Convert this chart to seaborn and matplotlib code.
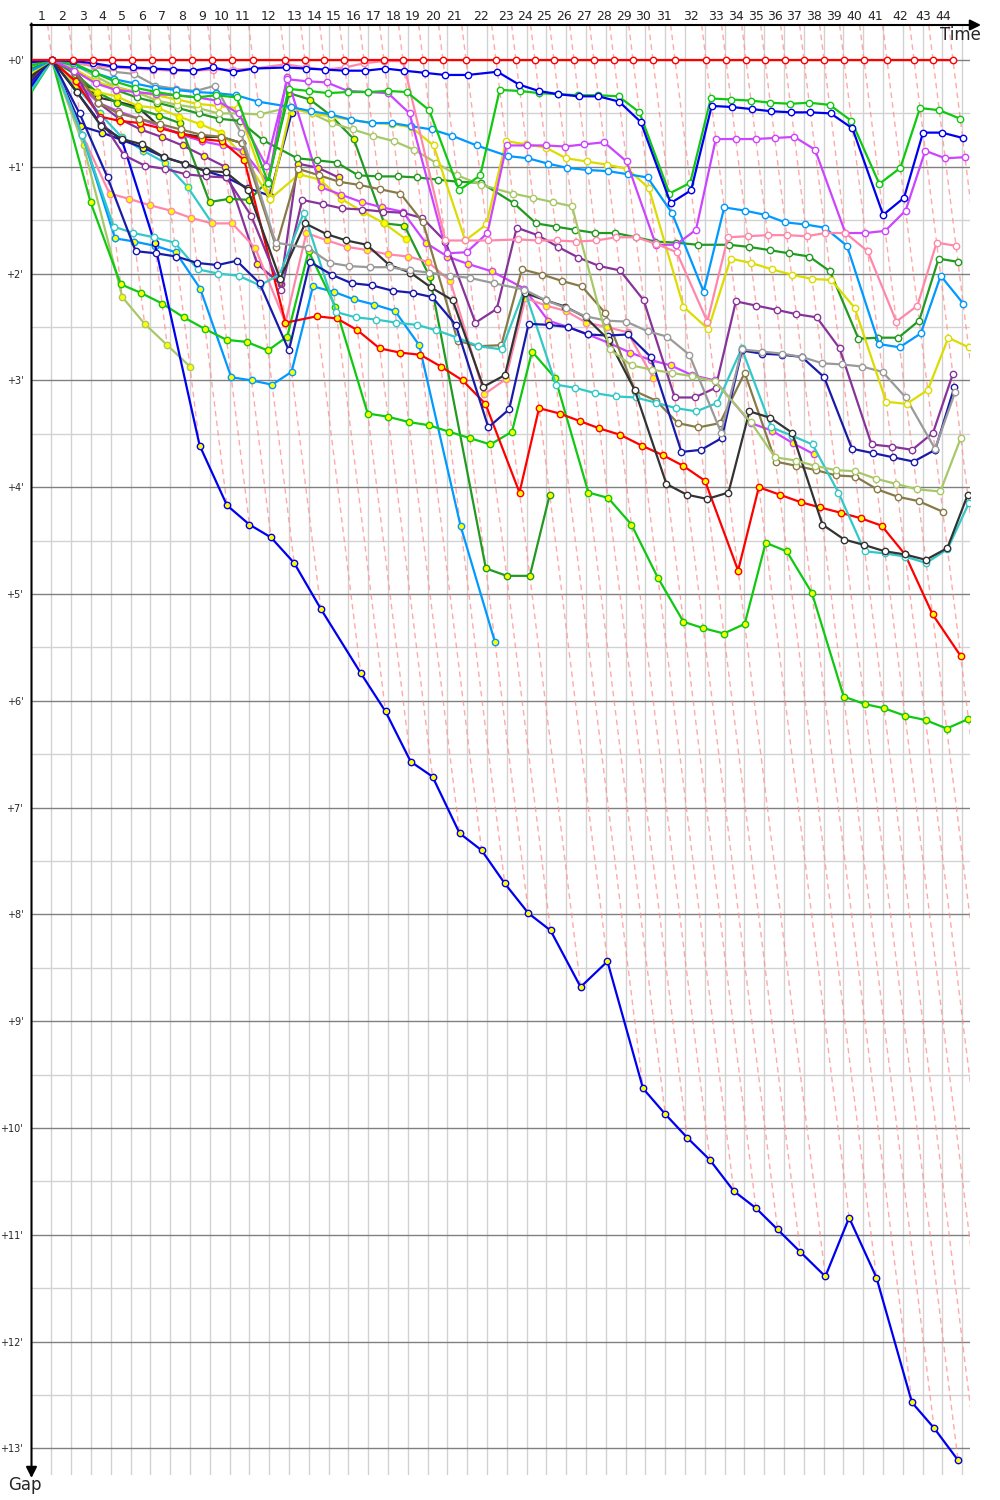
import matplotlib
matplotlib.use("Agg")
import matplotlib.pyplot as plt
from matplotlib.transforms import blended_transform_factory
import numpy as np
import pandas as pd
import seaborn as sns

# ---------------- data ----------------
# leader's elapsed time (minutes) at the end of each lap 1..44
lap_end_min = [1.55, 3.14, 4.66, 6.10, 7.61, 9.13, 10.64, 12.16, 13.67, 15.19,
               16.78, 19.20, 20.72, 22.16, 23.67, 25.19, 26.70, 28.14, 29.66, 31.17,
               32.92, 35.19, 36.70, 38.14, 39.58, 41.10, 42.61, 44.13, 45.57, 47.08,
               48.75, 51.10, 52.61, 54.13, 55.57, 57.08, 58.52, 60.04, 61.55, 63.07,
               64.81, 66.86, 68.30, 69.81]
lap_labels = [str(i) for i in range(1, 45)]
gap_labels = ["+%d'" % i for i in range(14)]

# gaps to the leader (minutes) per lap, starting with lap 1
red_a = [0, 0, 0, 0, 0, 0, 0, 0, 0, 0, 0, 0, 0, 0, 0, 0, 0, 0, 0, 0, 0, 0,
         0, 0, 0, 0, 0, 0, 0, 0, 0, 0, 0, 0, 0, 0, 0, 0, 0, 0, 0, 0, 0, 0]
blue_a = [0, 0.01, 0.03, 0.06, 0.07, 0.08, 0.09, 0.10, 0.07, 0.11,
          0.08, 0.07, 0.08, 0.09, 0.10, 0.10, 0.08, 0.10, 0.12, 0.14,
          0.14, 0.11, 0.23, 0.29, 0.32, 0.34, 0.34, 0.39, 0.58, 1.34,
          1.22, 0.43, 0.44, 0.46, 0.48, 0.49, 0.49, 0.50, 0.64, 1.45,
          1.29, 0.68, 0.68, 0.73]
green_a = [0, 0.03, 0.12, 0.20, 0.26, 0.30, 0.33, 0.35, 0.33, 0.35,
           1.15, 0.27, 0.29, 0.31, 0.30, 0.30, 0.29, 0.30, 0.47, 1.22,
           1.08, 0.28, 0.29, 0.31, 0.32, 0.33, 0.33, 0.34, 0.49, 1.25,
           1.15, 0.36, 0.37, 0.38, 0.40, 0.41, 0.40, 0.42, 0.57, 1.16,
           1.01, 0.45, 0.47, 0.55]
pink_a = [0, 0.03, 0.05, 0.07, 0.08, 0.09, 0.10, 0.10, 0.09, 0.09,
          0.08, 0.04, 0.07, 0.09, 0.07, 0.03, 0.01, 0.01, 1.69, 1.69,
          1.69, 1.68, 1.69, 1.69, 1.70, 1.69, 1.66, 1.66, 1.72, 1.80,
          2.45, 1.66, 1.65, 1.64, 1.64, 1.65, 1.62, 1.62, 1.79, 2.45,
          2.30, 1.71, 1.74]
violet_a = [0, 0.10, 0.22, 0.28, 0.30, 0.32, 0.33, 0.35, 0.38, 0.50,
            0.99, 0.18, 0.20, 0.21, 0.29, 0.30, 0.31, 0.50, 1.81, 1.80,
            1.62, 0.80, 0.80, 0.80, 0.81, 0.79, 0.77, 0.95, 1.73, 1.73,
            1.59, 0.74, 0.74, 0.74, 0.73, 0.72, 0.84, 1.62, 1.62, 1.60,
            1.41, 0.85, 0.92, 0.91]
skyblue_a = [0, 0.05, 0.12, 0.18, 0.22, 0.26, 0.28, 0.30, 0.31, 0.33,
             0.39, 0.44, 0.48, 0.51, 0.56, 0.59, 0.59, 0.62, 0.65, 0.71,
             0.80, 0.90, 0.92, 0.97, 1.01, 1.03, 1.04, 1.07, 1.10, 1.43,
             2.17, 1.38, 1.41, 1.45, 1.52, 1.54, 1.57, 1.74, 2.66, 2.69,
             2.56, 2.02, 2.28]
yellow_a = [0, 0.08, 0.20, 0.26, 0.30, 0.33, 0.37, 0.41, 0.43, 0.45,
            1.30, 0.45, 0.50, 0.53, 0.56, 0.59, 0.60, 0.63, 0.80, 1.69,
            1.54, 0.76, 0.79, 0.82, 0.92, 0.95, 0.98, 1.02, 1.20, 2.31,
            2.52, 1.86, 1.90, 1.96, 2.01, 2.05, 2.06, 2.32, 3.20, 3.22,
            3.09, 2.60, 2.69]
olive_a = [0, 0.04, 0.15, 0.25, 0.30, 0.38, 0.42, 0.45, 0.50, 0.50,
           0.51, 0.44, 0.50, 0.59, 0.65, 0.71, 0.76, 0.84, 0.96, 1.08,
           1.17, 1.25, 1.29, 1.33, 1.37, 2.71, 2.86, 2.90, 2.93, 2.96,
           3.01, 3.39, 3.72, 3.75, 3.80, 3.84, 3.85, 3.92, 3.97, 4.02,
           4.04, 3.54]
dkgreen_a = [0, 0.10, 0.20, 0.28, 0.35, 0.40, 0.45, 0.50, 0.55, 0.57,
             0.75, 0.92, 0.94, 0.96, 1.08, 1.09, 1.09, 1.10, 1.12, 1.14,
             1.15, 1.34, 1.53, 1.56, 1.59, 1.62, 1.62, 1.66, 1.70, 1.71,
             1.73, 1.73, 1.75, 1.78, 1.81, 1.84, 1.98, 2.61, 2.60, 2.60,
             2.44, 1.86, 1.89]
grey_a = [0, 0.02, 0.06, 0.11, 0.13, 0.24, 0.27, 0.29, 0.24, 0.68,
          1.71, 1.76, 1.90, 1.93, 1.94, 1.94, 1.97, 1.99, 2.02, 2.04,
          2.09, 2.15, 2.25, 2.32, 2.40, 2.44, 2.45, 2.54, 2.59, 2.76,
          3.49, 2.71, 2.73, 2.75, 2.78, 2.84, 2.85, 2.87, 2.92, 3.16,
          3.64, 3.11]
black_a = [0, 0.30, 0.62, 0.74, 0.79, 0.91, 0.97, 1.04, 1.05, 1.22,
           2.05, 1.53, 1.63, 1.69, 1.73, 1.92, 1.99, 2.13, 2.25, 3.06,
           2.95, 2.18, 2.25, 2.31, 2.41, 2.62, 3.09, 3.97, 4.07, 4.11,
           4.05, 3.29, 3.35, 3.49, 4.35, 4.49, 4.54, 4.60, 4.63, 4.68,
           4.57, 4.07]
navy_a = [0, 0.50, 1.10, 1.79, 1.81, 1.84, 1.90, 1.92, 1.88, 2.09,
          2.72, 1.89, 2.01, 2.09, 2.11, 2.16, 2.18, 2.22, 2.48, 3.44,
          3.27, 2.47, 2.48, 2.50, 2.57, 2.58, 2.57, 2.78, 3.67, 3.65,
          3.54, 2.72, 2.75, 2.76, 2.78, 2.97, 3.64, 3.68, 3.72, 3.76,
          3.65, 3.06]
cyan_a = [0, 0.70, 1.56, 1.62, 1.66, 1.71, 1.96, 2.00, 2.02, 2.11,
          2.01, 1.43, 2.36, 2.41, 2.43, 2.46, 2.48, 2.53, 2.60, 2.68,
          2.71, 2.15, 3.04, 3.07, 3.12, 3.15, 3.16, 3.21, 3.26, 3.29,
          3.21, 2.70, 3.44, 3.52, 3.60, 4.05, 4.60, 4.62, 4.65, 4.71,
          4.58, 4.15]
khaki_a = [0, 0.10, 0.40, 0.50, 0.55, 0.60, 0.65, 0.70, 0.72, 0.78,
           1.75, 1.02, 1.08, 1.14, 1.17, 1.21, 1.25, 1.52, 2.63, 2.68,
           2.67, 1.96, 2.01, 2.07, 2.12, 2.37, 3.10, 3.19, 3.40, 3.44,
           3.40, 2.93, 3.76, 3.80, 3.84, 3.89, 3.90, 4.02, 4.09, 4.13,
           4.23]
purple_a = [0, 0.10, 0.55, 0.89, 0.99, 1.02, 1.07, 1.09, 1.10, 1.46,
            2.15, 1.31, 1.35, 1.39, 1.40, 1.42, 1.43, 1.48, 1.70, 2.46,
            2.33, 1.57, 1.64, 1.75, 1.85, 1.93, 1.97, 2.25, 3.16, 3.16,
            3.07, 2.26, 2.30, 2.34, 2.38, 2.41, 2.70, 3.60, 3.62, 3.65,
            3.49, 2.94]
red_b = [0, 0.20, 0.53, 0.57, 0.59, 0.64, 0.69, 0.74, 0.76, 0.94,
         2.46, 2.40, 2.42, 2.53, 2.70, 2.74, 2.76, 2.87, 3.00, 3.22,
         4.05, 3.26, 3.31, 3.38, 3.45, 3.51, 3.61, 3.70, 3.80, 3.94,
         4.78, 4.00, 4.07, 4.14, 4.19, 4.24, 4.29, 4.36, 4.63, 5.19,
         5.58]
blue_b = [0, 0.30, 0.60, 0.75, 1.71, 3.61, 4.17, 4.35, 4.47, 4.71,
          5.14, 5.74, 6.10, 6.57, 6.71, 7.24, 7.40, 7.71, 7.99, 8.15,
          8.68, 8.44, 9.63, 9.87, 10.09, 10.30, 10.59, 10.75, 10.95, 11.16,
          11.39, 10.84, 11.40, 12.57, 12.81, 13.11]
green_b = [0, 1.33, 2.10, 2.18, 2.28, 2.41, 2.52, 2.62, 2.64, 2.72,
           2.59, 1.79, 2.31, 3.31, 3.34, 3.39, 3.42, 3.48, 3.54, 3.60,
           3.48, 2.73, 2.98, 4.05, 4.10, 4.35, 4.85, 5.26, 5.32, 5.37,
           5.28, 4.52, 4.60, 4.99, 5.96, 6.03, 6.07, 6.14, 6.18, 6.26,
           6.17]
pink_b = [0, 0.70, 1.25, 1.30, 1.36, 1.41, 1.48, 1.53, 1.53, 1.76,
          2.46, 1.62, 1.69, 1.75, 1.78, 1.82, 1.84, 1.89, 2.07, 3.13,
          2.99, 2.23, 2.30, 2.35, 2.46, 2.50, 2.55, 2.98]
violet_b = [0, 0.20, 0.40, 0.48, 0.55, 0.62, 0.70, 0.76, 0.80, 0.85,
            1.15, 0.16, 1.19, 1.26, 1.33, 1.38, 1.42, 1.71, 1.84, 1.91,
            1.98, 2.14, 2.44, 2.50, 2.57, 2.65, 2.74, 2.81, 2.86, 2.95,
            3.00, 3.40, 3.47, 3.59, 3.69]
skyblue_b = [0, 0.70, 1.67, 1.70, 1.74, 1.80, 2.14, 2.97, 3.00, 3.04,
             2.92, 2.12, 2.17, 2.24, 2.29, 2.35, 2.67, 4.36, 5.45]
yellow_b = [0, 0.23, 0.30, 0.34, 0.43, 0.45, 0.53, 0.60, 0.68, 0.90,
            1.30, 1.07, 1.12, 1.30, 1.42, 1.53, 1.68]
olive_b = [0, 0.80, 2.22, 2.47, 2.67, 2.87]
dkgreen_b = [0, 0.13, 0.30, 0.40, 0.46, 0.52, 0.59, 1.33, 1.30, 1.31,
             1.13, 0.31, 0.37, 0.52, 0.74, 1.53, 1.55, 2.03, 4.76, 4.83,
             4.83, 4.07]
black_b = [0, 0.10, 0.35, 0.39, 0.44, 0.63, 0.69, 0.72, 0.72, 0.78]
navy_b = [0, 0.62, 0.68, 0.75, 0.82, 0.91, 0.97, 1.04, 1.10, 1.20, 1.27, 0.50]
cyan_b = [0, 0.25, 0.50, 0.72, 0.85, 0.96, 1.19, 1.53]
purple_b = [0, 0.12, 0.40, 0.55, 0.65, 0.72, 0.80, 0.90, 1.00, 1.91,
            2.10, 0.97, 1.01, 1.10]

# gap at the start line (time 0)
start_gaps = {"red_a": 0.0, "blue_a": 0.02, "green_a": 0.05, "pink_a": 0.0,
              "violet_a": 0.01, "skyblue_a": 0.10, "yellow_a": 0.12,
              "olive_a": 0.05, "dkgreen_a": 0.08, "grey_a": 0.03,
              "black_a": 0.15, "navy_a": 0.20, "cyan_a": 0.28, "khaki_a": 0.10,
              "purple_a": 0.10, "red_b": 0.15, "blue_b": 0.25, "green_b": 0.30,
              "pink_b": 0.20, "violet_b": 0.05, "skyblue_b": 0.26,
              "yellow_b": 0.12, "olive_b": 0.27, "dkgreen_b": 0.10,
              "black_b": 0.18, "navy_b": 0.22, "cyan_b": 0.24, "purple_b": 0.12}

team_colors = {"red": "#ff0000", "blue": "#0000f0", "green": "#10c810",
               "pink": "#ff88aa", "violet": "#cc44ff", "skyblue": "#0099ff",
               "yellow": "#dcdc00", "olive": "#a8c868", "dkgreen": "#229a22",
               "grey": "#9a9a9a", "black": "#333333", "navy": "#1a1aaa",
               "cyan": "#33c8c8", "khaki": "#887a48", "purple": "#883399"}

series = [("red_a", red_a), ("blue_a", blue_a), ("green_a", green_a),
          ("pink_a", pink_a), ("violet_a", violet_a), ("skyblue_a", skyblue_a),
          ("yellow_a", yellow_a), ("olive_a", olive_a), ("dkgreen_a", dkgreen_a),
          ("grey_a", grey_a), ("black_a", black_a), ("navy_a", navy_a),
          ("cyan_a", cyan_a), ("khaki_a", khaki_a), ("purple_a", purple_a),
          ("red_b", red_b), ("blue_b", blue_b), ("green_b", green_b),
          ("pink_b", pink_b), ("violet_b", violet_b), ("skyblue_b", skyblue_b),
          ("yellow_b", yellow_b), ("olive_b", olive_b), ("dkgreen_b", dkgreen_b),
          ("black_b", black_b), ("navy_b", navy_b), ("cyan_b", cyan_b),
          ("purple_b", purple_b)]

# ---------------- layout ----------------
W, H = 1000, 1500
X0, X1, Y0, Y1 = 31.5, 970.0, 25.0, 1475.0      # axes box in pixels
PX_PER_MIN_X = 13.2
PX_PER_MIN_Y = 106.8
x_max = (X1 - X0) / PX_PER_MIN_X
y_top = -(60.0 - Y0) / PX_PER_MIN_Y
y_bot = y_top + (Y1 - Y0) / PX_PER_MIN_Y

sns.set_theme(style="white")
plt.rcParams["font.family"] = ["DejaVu Sans"]

fig = plt.figure(figsize=(W / 100, H / 100), dpi=100)
fig.patch.set_facecolor("white")
ax = fig.add_axes([X0 / W, 1 - Y1 / H, (X1 - X0) / W, (Y1 - Y0) / H])
ax.set_facecolor("white")
ax.set_xlim(0, x_max)
ax.set_ylim(y_bot, y_top)
for s in ax.spines.values():
    s.set_visible(False)

# grid
for k in range(1, 48):
    ax.axvline(1.5 * k, color="#d2d2d2", lw=1.0, zorder=0)
for m in range(14):
    ax.axhline(m + 0.5, color="#d2d2d2", lw=1.0, zorder=0)
    ax.axhline(m, color="#808080", lw=1.0, zorder=0)

# leader lap lines (dashed, slanted: a driver's lap time = leader time + gap)
for i, t in enumerate(lap_end_min):
    lap_gaps = [g[i] for _, g in series if len(g) > i]
    g_end = max(lap_gaps) if i < len(blue_b) else y_bot
    ax.plot([t + y_top, t + g_end], [y_top, g_end], color="#ff8c8c",
            lw=1.0, ls=(0, (4, 3)), alpha=0.75, zorder=1)

# drivers
for z, (name, gaps) in enumerate(reversed(series)):
    team = name.rsplit("_", 1)[0]
    color = team_colors[team]
    fill = "white" if name.endswith("_a") else "#ffff00"
    xs = [0.0] + [lap_end_min[i] + g for i, g in enumerate(gaps)]
    ys = [start_gaps[name]] + list(gaps)
    df = pd.DataFrame({"time": xs, "gap": ys})
    sns.lineplot(data=df, x="time", y="gap", ax=ax, sort=False, estimator=None,
                 errorbar=None, color=color, lw=1.6, marker="o", markersize=4.6,
                 markevery=list(range(1, len(xs))), markeredgecolor=color,
                 markeredgewidth=1.0, zorder=3 + z, legend=False)
    ax.lines[-1].set_markerfacecolor(fill)

ax.set_xlabel("")
ax.set_ylabel("")
ax.set_xticks([])
ax.set_yticks(range(14))
ax.set_yticklabels(gap_labels, fontsize=7)
ax.tick_params(axis="y", length=0, pad=6)

# lap numbers above the top axis
tr = blended_transform_factory(ax.transData, ax.transAxes)
prev = 0.0
for lbl, t in zip(lap_labels, lap_end_min):
    ax.text((prev + t) / 2, 1 + 8 / (Y1 - Y0), lbl, transform=tr, ha="center",
            va="center", fontsize=9, clip_on=False)
    prev = t

# axis arrows
fy = 1 - Y0 / H
ax.annotate("", xy=(981 / W, fy), xytext=(X0 / W - 0.001, fy), xycoords="figure fraction",
            arrowprops=dict(arrowstyle="-|>", color="black", lw=1.5, mutation_scale=16,
                            shrinkA=0, shrinkB=0))
ax.annotate("", xy=(X0 / W, 1 - 1478 / H), xytext=(X0 / W, fy + 0.001), xycoords="figure fraction",
            arrowprops=dict(arrowstyle="-|>", color="black", lw=1.5, mutation_scale=16,
                            shrinkA=0, shrinkB=0))
fig.text(960 / W, 1 - 35 / H, "Time", ha="center", va="center", fontsize=12)
fig.text(25 / W, 1 - 1485 / H, "Gap", ha="center", va="center", fontsize=12)

fig.savefig("out.png", dpi=100, facecolor="white")
